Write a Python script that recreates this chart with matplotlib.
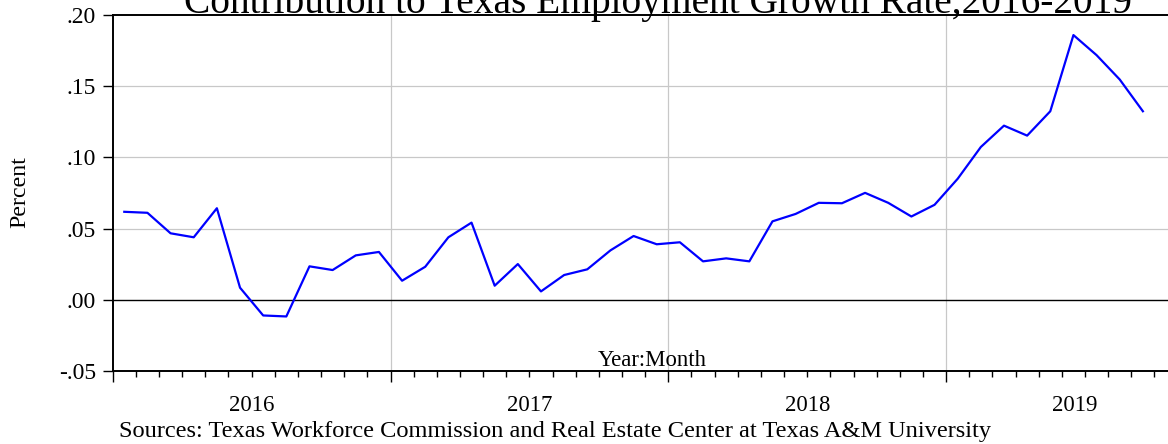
import numpy as np
import matplotlib.pyplot as plt
from matplotlib import transforms

plt.rcParams["font.family"] = "Liberation Serif"

# ---- data: monthly values, Jan 2016 .. Sep 2019 ----
years = [2016, 2017, 2018, 2019]
contrib = [
    0.0618, 0.0611, 0.0467, 0.0439, 0.0643, 0.0085, -0.0110, -0.0117, 0.0235, 0.0209, 0.0312, 0.0336,
    0.0134, 0.0232, 0.0439, 0.0542, 0.0099, 0.0251, 0.0059, 0.0174, 0.0214, 0.0347, 0.0448, 0.0390,
    0.0404, 0.0270, 0.0291, 0.0270, 0.0551, 0.0603, 0.0681, 0.0678, 0.0751, 0.0681, 0.0585, 0.0667,
    0.0850, 0.1073, 0.1223, 0.1153, 0.1324, 0.1859, 0.1718, 0.1547, 0.1324,
]
y_ticks = [-0.05, 0.00, 0.05, 0.10, 0.15, 0.20]

title = "Contribution to Texas Employment Growth Rate,2016-2019"
source = "Sources: Texas Workforce Commission and Real Estate Center at Texas A&M University"

# ---- layout (pixels -> figure fraction) ----
W, H = 1168, 444
ax_l, ax_r, ax_t, ax_b = 112.7, 1204, 15, 371
x_end = 47.14  # months shown (axis runs past the right edge)

fig = plt.figure(figsize=(W / 100, H / 100), dpi=100)
ax = fig.add_axes([ax_l / W, 1 - ax_b / H, (ax_r - ax_l) / W, (ax_b - ax_t) / H])

months = np.arange(len(contrib)) + 0.5
ax.plot(months, contrib, color="#0000ff", lw=1.6, zorder=3)
ax.axhline(0, color="black", lw=1.0, zorder=2)

ax.set_xlim(0, x_end)
ax.set_ylim(y_ticks[0], y_ticks[-1])

# y axis
ax.set_yticks(y_ticks)
ax.set_yticklabels([f"{v:.2f}".replace("0.", ".") for v in y_ticks])
ax.tick_params(axis="y", direction="out", length=7.5, width=1.0, pad=4.5,
               labelsize=17, right=False)

# x axis: year boundaries major, months minor, labels placed by hand
n_years = len(years)
ax.set_xticks([12 * k for k in range(n_years)])
ax.set_xticks(np.arange(0, x_end, 1), minor=True)
ax.set_xticklabels([])
ax.tick_params(axis="x", which="major", direction="out", length=8, width=1.0)
ax.tick_params(axis="x", which="minor", direction="out", length=4.3, width=1.0)

trans = transforms.blended_transform_factory(ax.transData, ax.transAxes)
for k, yr in enumerate(years):
    x0 = 12 * k
    x1 = min(12 * (k + 1), x_end)
    ax.text((x0 + x1) / 2, -39.7 / (ax_b - ax_t), str(yr), transform=trans,
            ha="center", va="baseline", fontsize=16.4)

# grid
for k in range(1, n_years):
    ax.axvline(12 * k, color="#c8c8c8", lw=0.9, zorder=1)
for v in y_ticks[1:-1]:
    if v != 0:
        ax.axhline(v, color="#c8c8c8", lw=0.9, zorder=1)

for s in ax.spines.values():
    s.set_linewidth(1.4)
    s.set_zorder(4)

# texts
ax_cx = (ax_l + ax_r) / 2 / W
fig.text(ax_cx, 1 - 13.4 / H, title, ha="center", va="baseline", fontsize=28.4)
fig.text(652 / W, 1 - 366.5 / H, "Year:Month", ha="center", va="baseline", fontsize=16.4)
fig.text(20 / W, 1 - 192 / H, "Percent", rotation=90, ha="center", va="center", fontsize=17.2)
fig.text(119.4 / W, 1 - 437 / H, source, ha="left", va="baseline", fontsize=17.6)

fig.savefig("out.png", dpi=100)
